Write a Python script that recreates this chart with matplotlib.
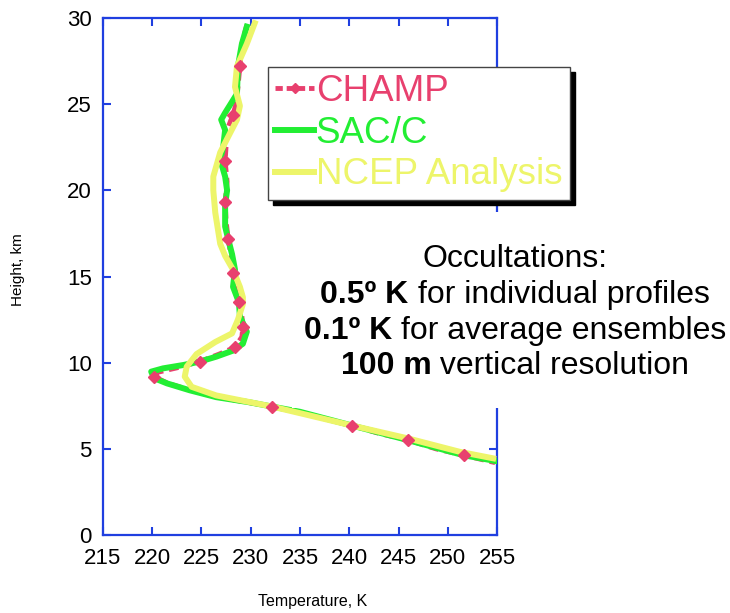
import matplotlib
matplotlib.use("Agg")
import matplotlib.pyplot as plt
from matplotlib.patches import Rectangle

plt.rcParams['font.family'] = ['Liberation Sans', 'DejaVu Sans']

# CHAMP profile (temperature K, height km)
champ_t = [229.6, 229.1, 228.9, 228.7, 228.5, 228.2, 227.6, 227.5, 227.4, 227.6, 227.4, 227.5,
           227.7, 228.0, 228.2, 228.4, 228.8, 229.1, 229.2, 229.1, 228.4, 226.8, 224.8, 222.5,
           220.6, 220.2, 221.6, 223.9, 226.6, 232.2, 235.8, 240.3, 243.0, 246.0, 248.8, 251.6, 254.8]
champ_h = [29.6, 28.5, 27.2, 26.0, 25.0, 24.4, 23.5, 22.6, 21.7, 20.5, 19.3, 18.2,
           17.2, 16.2, 15.2, 14.3, 13.5, 12.7, 12.1, 11.5, 10.9, 10.5, 10.06, 9.7,
           9.45, 9.19, 8.8, 8.4, 8.0, 7.45, 7.0, 6.35, 5.9, 5.5, 5.0, 4.63, 4.2]
champ_marks = [2, 5, 8, 10, 12, 14, 16, 18, 20, 22, 25, 29, 31, 33, 35]

# SAC/C profile
sac_t = [229.6, 229.1, 228.7, 228.6, 227.4, 227.0, 227.4, 227.2, 226.9, 227.4, 227.6, 227.4,
         227.4, 227.7, 228.1, 228.4, 228.2, 228.6, 228.8, 228.9, 229.6, 229.2, 228.2, 226.5,
         224.8, 223.2, 221.1, 219.9, 220.2, 221.5, 223.8, 226.5, 229.9, 232.2, 235.0, 240.3,
         246.0, 251.6, 254.8]
sac_h = [29.5, 28.5, 27.2, 25.6, 24.5, 24.1, 23.5, 22.5, 21.8, 20.8, 20.0, 19.2,
         17.9, 17.2, 16.3, 15.4, 14.4, 13.8, 13.5, 12.7, 11.8, 11.1, 10.7, 10.35,
         10.06, 9.87, 9.67, 9.48, 9.1, 8.8, 8.4, 8.0, 7.7, 7.45, 7.15, 6.35,
         5.5, 4.63, 4.3]

# NCEP analysis profile
ncep_t = [230.4, 229.6, 228.6, 228.4, 228.9, 228.6, 227.7, 226.9, 226.2, 226.2, 226.4, 226.9,
          227.4, 228.2, 228.9, 229.2, 229.2, 228.7, 228.1, 226.4, 224.5, 223.5, 223.3, 224.0,
          226.5, 232.2, 240.3, 246.0, 251.2, 254.6]
ncep_h = [29.7, 28.5, 27.2, 26.0, 24.9, 24.1, 23.1, 22.2, 20.8, 20.0, 18.7, 16.9,
          16.2, 15.4, 14.4, 13.8, 13.4, 12.5, 11.7, 11.2, 10.5, 9.77, 9.19, 8.6,
          8.1, 7.45, 6.35, 5.6, 4.83, 4.45]

x_ticks = [215, 220, 225, 230, 235, 240, 245, 250, 255]
y_ticks = [0, 5, 10, 15, 20, 25, 30]

c_champ = '#E8406E'
c_sac = '#22EE33'
c_ncep = '#EDF56A'
c_axis = '#1F3FE0'

fig = plt.figure(figsize=(7.30, 6.13), dpi=100)
ax = fig.add_axes([0.141, 0.1272, 0.540, 0.8434])

ax.plot(champ_t, champ_h, color=c_champ, lw=3.5, ls=(0, (2.0, 1.2)), zorder=2)
ax.plot(sac_t, sac_h, color=c_sac, lw=4.3, solid_joinstyle='round', zorder=3)
ax.plot(ncep_t, ncep_h, color=c_ncep, lw=4.3, solid_joinstyle='round', zorder=4)
ax.plot([champ_t[i] for i in champ_marks], [champ_h[i] for i in champ_marks],
        ls='none', marker='D', ms=6, color=c_champ, zorder=5)

# legend handles
h1, = ax.plot([], [], color=c_champ, lw=3.5, ls=(0, (1.5, 0.8)), marker='D', ms=5)
h2, = ax.plot([], [], color=c_sac, lw=4.3)
h3, = ax.plot([], [], color=c_ncep, lw=4.3)

ax.set_xlim(215, 255)
ax.set_ylim(0, 30)
ax.set_xticks(x_ticks)
ax.set_yticks(y_ticks)
ax.tick_params(direction='in', length=6, width=1.5, color=c_axis, labelsize=16,
               top=True, right=True)
ax.tick_params(axis='x', pad=9)
ax.tick_params(axis='y', pad=8)
for s in ax.spines.values():
    s.set_color(c_axis)
    s.set_linewidth(1.6)

fig.text(0.428, 0.018, 'Temperature, K', fontsize=11.5, ha='center', va='center')
fig.text(0.024, 0.56, 'Height, km', fontsize=11, rotation=90, ha='center', va='center')

leg = ax.legend([h1, h2, h3], ['CHAMP', 'SAC/C', 'NCEP Analysis'],
                loc='upper left', bbox_to_anchor=(0.367, 0.891), bbox_transform=fig.transFigure,
                fontsize=26.5, handlelength=1.05, handletextpad=0.05, labelspacing=0.18,
                borderpad=0.2, borderaxespad=0, fancybox=False, framealpha=1,
                edgecolor='#444444', shadow={'color': 'black', 'alpha': 1, 'ox': 4, 'oy': -4})
leg.get_frame().set_linewidth(1.0)
for txt, col in zip(leg.get_texts(), [c_champ, c_sac, c_ncep]):
    txt.set_color(col)

# white text box covering the right spine
fig.patches.append(Rectangle((0.40, 1 - 408 / 613), 0.60, (408 - 212) / 613,
                             transform=fig.transFigure, facecolor='white',
                             edgecolor='none', zorder=1))

lines = [('', 'Occultations:'),
         ('0.5º K', ' for individual profiles'),
         ('0.1º K', ' for average ensembles'),
         ('100 m', ' vertical resolution')]
cx = 515 / 730
base_y = [267, 303, 339, 374]
renderer = fig.canvas.get_renderer()
for (bold, reg), by in zip(lines, base_y):
    y = 1 - by / 613
    tb = fig.text(0, y, bold, fontsize=23, fontweight='bold', va='baseline', zorder=2)
    tr = fig.text(0, y, reg, fontsize=23, va='baseline', zorder=2)
    wb = tb.get_window_extent(renderer).width / fig.bbox.width if bold else 0
    wr = tr.get_window_extent(renderer).width / fig.bbox.width
    x0 = cx - (wb + wr) / 2
    tb.set_x(x0)
    tr.set_x(x0 + wb)

fig.savefig('out.png', dpi=100)
